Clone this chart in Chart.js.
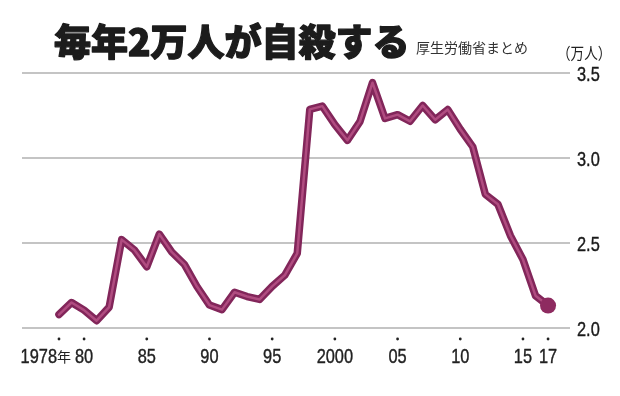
<!DOCTYPE html>
<html>
<head>
<meta charset="utf-8">
<script src="https://cdn.jsdelivr.net/npm/chart.js@4/dist/chart.umd.min.js"></script>
<style>
  html, body { margin: 0; padding: 0; background: #fff; }
  #wrap { width: 620px; height: 396px; position: relative; }
</style>
</head>
<body>
<div id="wrap"><canvas id="chart" width="620" height="396"></canvas></div>
<script>
// 自殺者数（万人）1978-2017
const years = [1978, 1979, 1980, 1981, 1982, 1983, 1984, 1985, 1986, 1987,
  1988, 1989, 1990, 1991, 1992, 1993, 1994, 1995, 1996, 1997,
  1998, 1999, 2000, 2001, 2002, 2003, 2004, 2005, 2006, 2007,
  2008, 2009, 2010, 2011, 2012, 2013, 2014, 2015, 2016, 2017];
const suicides = [2.079, 2.150, 2.105, 2.043, 2.123, 2.520, 2.460, 2.360, 2.552, 2.446,
  2.374, 2.244, 2.135, 2.108, 2.210, 2.185, 2.168, 2.245, 2.310, 2.439,
  3.286, 3.305, 3.196, 3.104, 3.214, 3.443, 3.233, 3.255, 3.216, 3.309,
  3.225, 3.285, 3.169, 3.065, 2.786, 2.728, 2.543, 2.403, 2.190, 2.132];
const xTickYears = [1978, 1980, 1985, 1990, 1995, 2000, 2005, 2010, 2015, 2017];
const xTickLabels = ['1978', '80', '85', '90', '95', '2000', '05', '10', '15', '17'];
const yTicks = [2.0, 2.5, 3.0, 3.5];

const title = '毎年2万人が自殺する';
const source = '厚生労働省まとめ';
const unit = '（万人）';

const sans = "'Liberation Sans', Arial, sans-serif";
const cjk = "'Noto Sans CJK JP', sans-serif";

const points = years.map((y, i) => ({ x: y, y: suicides[i] }));
const last = points.length - 1;

// 細長い数字（コンデンス体の代わり）
function narrowText(ctx, text, x, y, align, size) {
  ctx.save();
  ctx.translate(x, y);
  ctx.scale(0.78, 1);
  ctx.font = `${size}px ${sans}`;
  ctx.textAlign = align;
  ctx.textBaseline = 'alphabetic';
  ctx.fillText(text, 0, 0);
  ctx.strokeStyle = ctx.fillStyle;
  ctx.lineWidth = 0.4;
  ctx.strokeText(text, 0, 0);
  ctx.restore();
}

// タイトル・目盛りラベルを描く
const decorPlugin = {
  id: 'decor',
  afterDraw(chart) {
    const ctx = chart.ctx;
    const xs = chart.scales.x;
    const ys = chart.scales.y;
    ctx.save();
    ctx.fillStyle = '#1c1c1c';
    ctx.strokeStyle = '#1c1c1c';
    ctx.lineWidth = 1.3;
    ctx.lineJoin = 'round';
    ctx.textBaseline = 'alphabetic';
    ctx.textAlign = 'left';
    ctx.font = `900 37px ${cjk}`;
    ctx.fillText(title, 54, 56);
    ctx.strokeText(title, 54, 56);
    ctx.fillStyle = '#333';
    ctx.font = `14px ${cjk}`;
    ctx.fillText(source, 416, 53);
    ctx.fillStyle = '#222';
    ctx.save();
    ctx.translate(557, 59);
    ctx.scale(0.85, 1);
    ctx.font = `16px ${cjk}`;
    ctx.fillText(unit, 0, 0);
    ctx.restore();

    // y 目盛り
    ctx.fillStyle = '#1a1a1a';
    yTicks.forEach(v => {
      narrowText(ctx, v.toFixed(1), 577, ys.getPixelForValue(v) + 7.5, 'left', 21);
    });

    // x 目盛り
    xTickYears.forEach((yr, i) => {
      const px = xs.getPixelForValue(yr);
      ctx.fillStyle = '#222';
      ctx.beginPath();
      ctx.arc(px, 339, 1.4, 0, Math.PI * 2);
      ctx.fill();
      if (i === 0) {
        narrowText(ctx, xTickLabels[i], px - 2, 363, 'right', 21);
        ctx.textAlign = 'left';
        ctx.font = `14px ${cjk}`;
        ctx.fillText('年', px - 2, 362);
      } else {
        narrowText(ctx, xTickLabels[i], px, 363, 'center', 21);
      }
    });
    ctx.restore();
  }
};

const lineCommon = {
  data: points,
  fill: false,
  tension: 0,
  borderJoinStyle: 'round',
  borderCapStyle: 'round',
  clip: false
};

new Chart(document.getElementById('chart'), {
  type: 'line',
  data: {
    datasets: [
      {
        ...lineCommon,
        borderColor: '#b04c80',
        borderWidth: 2.5,
        pointRadius: ctx => ctx.dataIndex === last ? 8 : 0,
        pointBackgroundColor: '#8e2b60',
        pointBorderWidth: 0
      },
      {
        ...lineCommon,
        borderColor: '#82265a',
        borderWidth: 7.5,
        pointRadius: 0
      }
    ]
  },
  options: {
    responsive: false,
    animation: false,
    events: [],
    layout: { padding: { left: 22, right: 0, top: 73, bottom: 68 } },
    plugins: { legend: { display: false }, tooltip: { enabled: false } },
    scales: {
      x: {
        type: 'linear',
        display: false,
        min: 1975.05,
        max: 2018.75
      },
      y: {
        position: 'right',
        min: 2.0,
        max: 3.5,
        afterBuildTicks: axis => { axis.ticks = yTicks.map(v => ({ value: v })); },
        afterFit: axis => { axis.width = 50; },
        border: { display: false },
        grid: { color: '#c4c4c4', lineWidth: 2, drawTicks: false },
        ticks: { display: false }
      }
    }
  },
  plugins: [decorPlugin]
});
</script>
</body>
</html>
